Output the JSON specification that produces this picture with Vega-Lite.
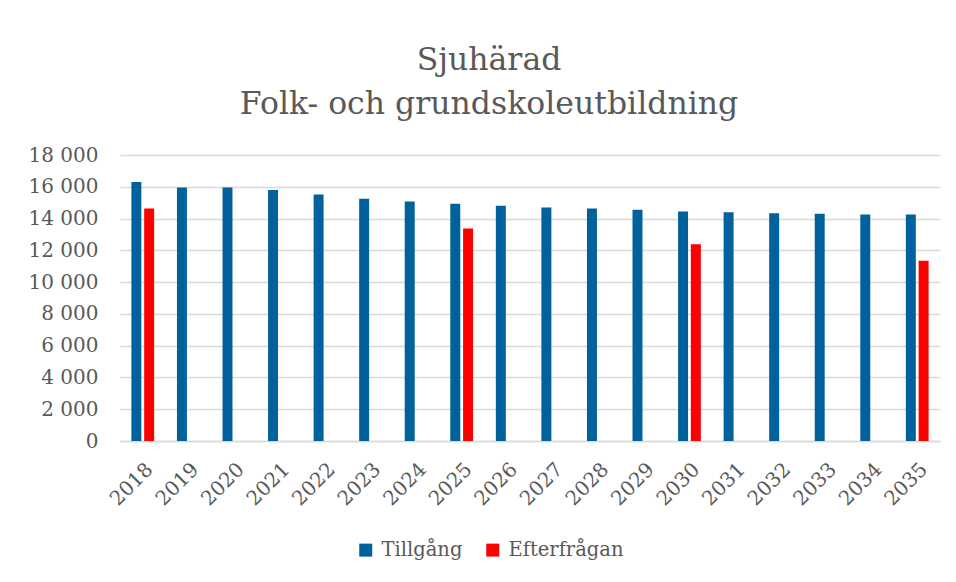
{
  "$schema": "https://vega.github.io/schema/vega-lite/v6.json",
  "width": 820,
  "height": 286,
  "autosize": {"type": "none"},
  "padding": {"left": 120, "top": 155, "right": 16, "bottom": 141},
  "background": "white",
  "title": {
    "text": ["Sjuhärad", "Folk- och grundskoleutbildning"],
    "font": "DejaVu Serif",
    "fontSize": 31.5,
    "fontWeight": "normal",
    "color": "#595959",
    "lineHeight": 44,
    "anchor": "middle",
    "dx": -41,
    "offset": 25
  },
  "data": {
    "values": [
      {"year": "2018", "serie": "Tillgång", "value": 16300},
      {"year": "2019", "serie": "Tillgång", "value": 15950},
      {"year": "2020", "serie": "Tillgång", "value": 15950},
      {"year": "2021", "serie": "Tillgång", "value": 15790},
      {"year": "2022", "serie": "Tillgång", "value": 15510},
      {"year": "2023", "serie": "Tillgång", "value": 15240},
      {"year": "2024", "serie": "Tillgång", "value": 15070},
      {"year": "2025", "serie": "Tillgång", "value": 14930},
      {"year": "2026", "serie": "Tillgång", "value": 14800},
      {"year": "2027", "serie": "Tillgång", "value": 14700},
      {"year": "2028", "serie": "Tillgång", "value": 14630},
      {"year": "2029", "serie": "Tillgång", "value": 14550},
      {"year": "2030", "serie": "Tillgång", "value": 14440},
      {"year": "2031", "serie": "Tillgång", "value": 14400},
      {"year": "2032", "serie": "Tillgång", "value": 14340},
      {"year": "2033", "serie": "Tillgång", "value": 14300},
      {"year": "2034", "serie": "Tillgång", "value": 14260},
      {"year": "2035", "serie": "Tillgång", "value": 14250},
      {"year": "2018", "serie": "Efterfrågan", "value": 14630},
      {"year": "2025", "serie": "Efterfrågan", "value": 13380},
      {"year": "2030", "serie": "Efterfrågan", "value": 12390},
      {"year": "2035", "serie": "Efterfrågan", "value": 11340}
    ]
  },
  "mark": {"type": "bar"},
  "encoding": {
    "x": {
      "field": "year",
      "type": "nominal",
      "title": null,
      "scale": {"paddingInner": 0.5, "paddingOuter": 0.25},
      "axis": {
        "labelAngle": -45,
        "labelFont": "DejaVu Serif",
        "labelFontSize": 20,
        "labelColor": "#595959",
        "labelPadding": 18,
        "ticks": false,
        "domainColor": "#D9D9D9",
        "domainWidth": 1.5
      }
    },
    "xOffset": {
      "field": "serie",
      "type": "nominal",
      "sort": ["Tillgång", "Efterfrågan"],
      "scale": {"paddingInner": 0.22}
    },
    "y": {
      "field": "value",
      "type": "quantitative",
      "title": null,
      "scale": {"domain": [0, 18000], "nice": false},
      "axis": {
        "values": [0, 2000, 4000, 6000, 8000, 10000, 12000, 14000, 16000, 18000],
        "labelExpr": "replace(format(datum.value, ',d'), ',', ' ')",
        "labelFont": "DejaVu Serif",
        "labelFontSize": 20,
        "labelColor": "#595959",
        "labelPadding": 22,
        "ticks": false,
        "domain": false,
        "gridColor": "#D9D9D9",
        "gridWidth": 1.3
      }
    },
    "color": {
      "field": "serie",
      "type": "nominal",
      "sort": ["Tillgång", "Efterfrågan"],
      "scale": {"domain": ["Tillgång", "Efterfrågan"], "range": ["#00619C", "#FF0000"]},
      "legend": {
        "title": null,
        "orient": "none",
        "legendX": 236,
        "legendY": 385,
        "direction": "horizontal",
        "symbolType": "square",
        "symbolSize": 169,
        "symbolStrokeWidth": 0,
        "symbolOpacity": 1,
        "labelFont": "DejaVu Serif",
        "labelFontSize": 19.5,
        "labelColor": "#595959",
        "labelOffset": 6,
        "columnPadding": 20
      }
    }
  },
  "config": {
    "view": {"stroke": null}
  }
}
